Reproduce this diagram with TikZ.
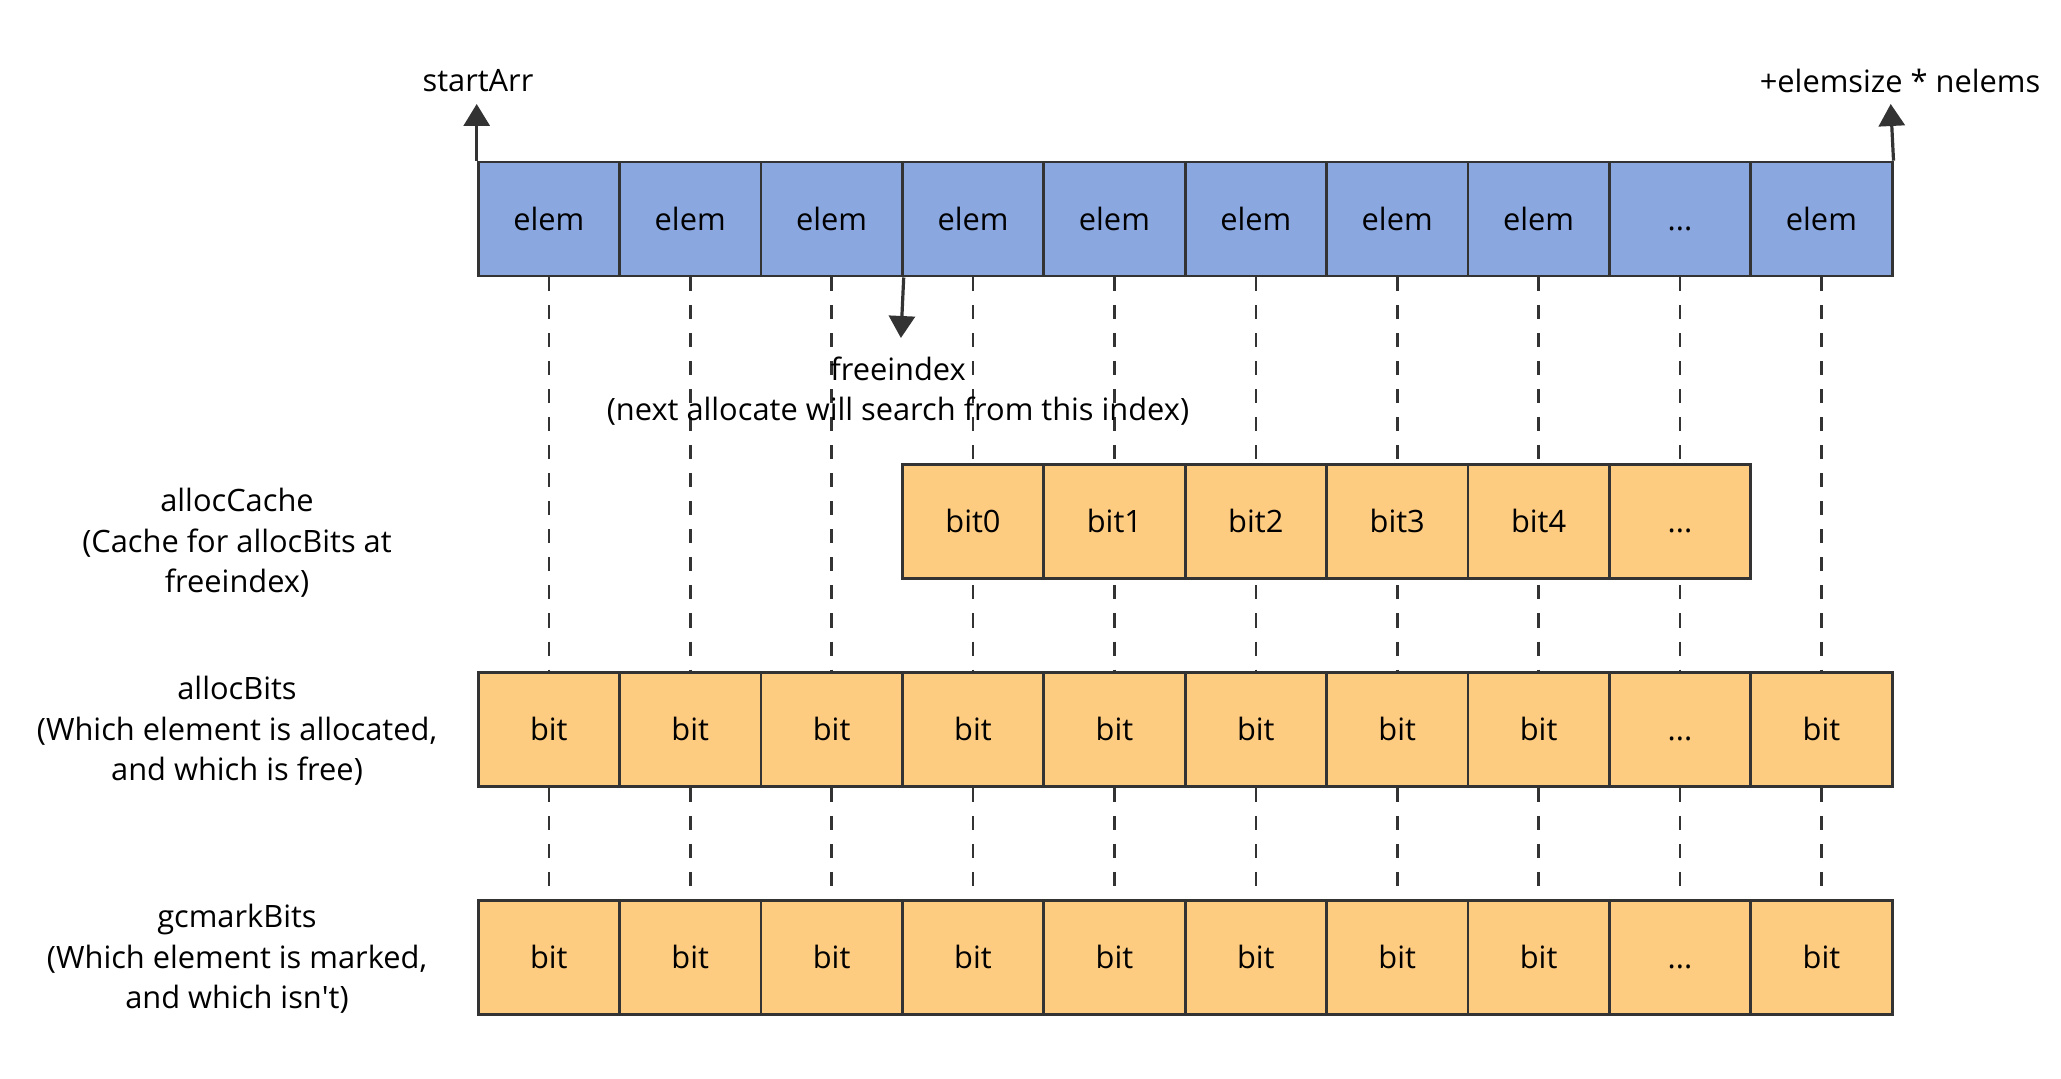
\documentclass[tikz,border=0pt]{standalone}
\usepackage{fontspec}
\setmainfont{Open Sans}
\usetikzlibrary{arrows.meta,backgrounds}
\definecolor{elemblue}{RGB}{138,167,224}
\definecolor{bitorange}{RGB}{254,204,129}
\definecolor{stroke}{RGB}{51,51,51}
\newcommand\mydots{\vphantom{b}{.}{.}{.}}
\tikzset{
  cell/.style={draw=stroke, line width=1.4pt, minimum width=70.7pt, minimum height=57pt,
    inner sep=0pt, anchor=north west, font=\fontsize{15.4}{18}\selectfont, text=black},
  elemcell/.style={cell, fill=elemblue},
  bitcell/.style={cell, fill=bitorange},
  guide/.style={draw=stroke, line width=1.3pt, dash pattern=on 7pt off 7pt},
  arr/.style={draw=stroke, line width=1.6pt, -{Triangle[width=13pt,length=11pt]}},
  lbl/.style={align=center, font=\fontsize{15.4}{20.3}\selectfont, text=black, inner sep=0pt}
}
\begin{document}
\begin{tikzpicture}[x=0.5pt,y=-0.5pt]
\useasboundingbox (0,0) rectangle (2061,1079);
\foreach \i/\t in {1/elem,2/elem,3/elem,4/elem,5/elem,6/elem,7/elem,8/elem,9/\mydots,10/elem}{
  \node[elemcell] (e\i) at ({476.7+141.4*(\i-1)},160.7) {\t};
  \node[bitcell] (a\i) at ({476.7+141.4*(\i-1)},671) {\ifnum\i=9 \mydots\else bit\fi};
  \node[bitcell] (g\i) at ({476.7+141.4*(\i-1)},899) {\ifnum\i=9 \mydots\else bit\fi};
}
\foreach \i/\t in {1/bit0,2/bit1,3/bit2,4/bit3,5/bit4,6/\mydots}{
  \node[bitcell] (c\i) at ({476.7+141.4*(\i+2)},463) {\t};
}
\begin{scope}[on background layer]
\foreach \i in {1,2,3,4,5,6,7,8,9,10}{
  \draw[guide] (e\i.south) -- (a\i.north);
  \draw[guide] (a\i.south) -- (g\i.north);
}
\end{scope}
\node[lbl] (startArr) at (478,81) {startArr};
\node[lbl] (endArr) at (1900,81) {+elemsize * nelems};
\coordinate (sa) at (476.7,104);
\coordinate (ea) at (1890.7,104);
\draw[arr] (e1.north west) -- (sa);
\draw[arr] (e10.north east) -- (ea);
\coordinate (fi) at (900.9,338);
\draw[arr] (e3.south east) -- (fi);
\node[lbl] (freeidx) at (898,391) {freeindex\\(next allocate will search from this index)};
\node[lbl] (lcache) at (237,543) {allocCache\\(Cache for allocBits at\\freeindex)};
\node[lbl] (lalloc) at (237,731) {allocBits\\(Which element is allocated,\\and which is free)};
\node[lbl] (lgc) at (237,959) {gcmarkBits\\(Which element is marked,\\and which isn\textquotesingle t)};
\end{tikzpicture}
\end{document}
